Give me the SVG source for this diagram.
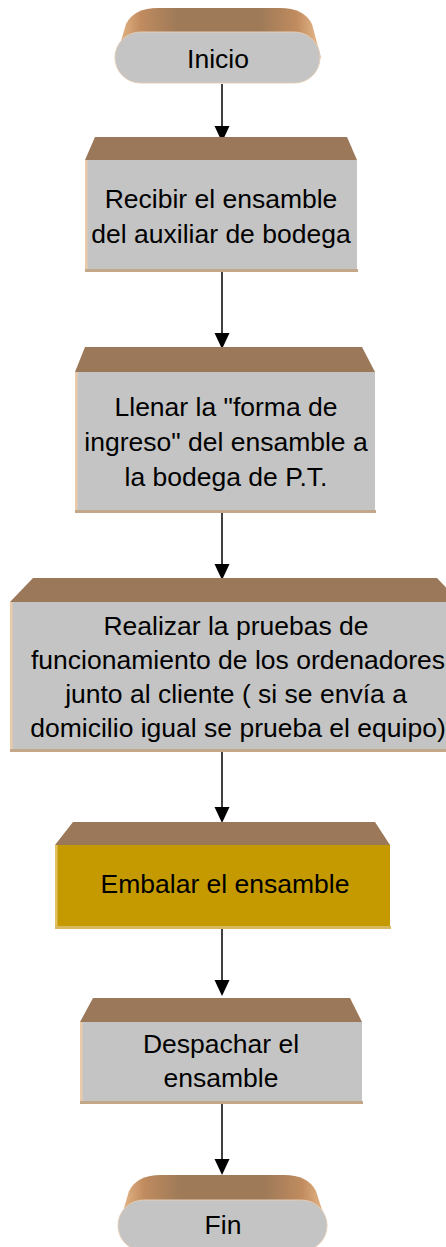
<svg xmlns="http://www.w3.org/2000/svg" width="446" height="1247" viewBox="0 0 446 1247">
<defs>
<style>
.top{fill:#9A7859;}
.front{fill:#C4C4C4;}
.gold{fill:#C49A00;}
.ledge{fill:#E9CBA9;}
.bedge{fill:#C2A888;}
.t{font-family:"Liberation Sans",Arial,sans-serif;font-size:26.5px;fill:#000;text-anchor:middle;}
.conn{stroke:#000;stroke-width:1.5;fill:none;}
.head{fill:#000;}
</style>
<linearGradient id="pillTop" x1="0" y1="0" x2="1" y2="0">
<stop offset="0" stop-color="#E9BC8E"/>
<stop offset="0.12" stop-color="#C08B5F"/>
<stop offset="0.3" stop-color="#9E7A58"/>
<stop offset="0.7" stop-color="#9E7A58"/>
<stop offset="0.88" stop-color="#C08B5F"/>
<stop offset="1" stop-color="#E9BC8E"/>
</linearGradient>
</defs>

<g id="connectors">
<line class="conn" x1="222" y1="84" x2="222" y2="126"/>
<polygon class="head" points="214.5,126 229.5,126 222,142"/>
<line class="conn" x1="222" y1="272" x2="222" y2="333"/>
<polygon class="head" points="214.5,333 229.5,333 222,349"/>
<line class="conn" x1="222" y1="512" x2="222" y2="564"/>
<polygon class="head" points="214.5,564 229.5,564 222,580"/>
<line class="conn" x1="222" y1="751" x2="222" y2="807"/>
<polygon class="head" points="214.5,807 229.5,807 222,823"/>
<line class="conn" x1="222" y1="929" x2="222" y2="980"/>
<polygon class="head" points="214.5,980 229.5,980 222,996"/>
<line class="conn" x1="222" y1="1104" x2="222" y2="1159"/>
<polygon class="head" points="214.5,1159 229.5,1159 222,1175"/>
</g>

<g id="inicio">
<path d="M116,58 L126,24 Q134,8 158,8 L280,8 Q304,8 312,24 L321,58 Z" fill="url(#pillTop)"/>
<rect x="115" y="32" width="205" height="51" rx="25.5" class="front" stroke="#E2CDB6" stroke-width="1"/>
<text class="t" x="218" y="68">Inicio</text>
</g>

<g id="recibir">
<polygon class="top" points="95,137 347,137 357,160 85,160"/>
<rect class="front" x="85" y="160" width="272" height="110"/>
<rect class="ledge" x="85" y="160" width="2.5" height="110"/>
<rect class="bedge" x="85" y="269" width="273" height="3"/>
<text class="t" x="221" y="208">Recibir el ensamble</text>
<text class="t" x="221" y="243">del auxiliar de bodega</text>
</g>

<g id="llenar">
<polygon class="top" points="85,347 362,347 375,372 75,372"/>
<rect class="front" x="75" y="372" width="300" height="139"/>
<rect class="ledge" x="75" y="372" width="2.5" height="139"/>
<rect class="bedge" x="75" y="510" width="301" height="3"/>
<text class="t" x="226" y="416">Llenar la "forma de</text>
<text class="t" x="226" y="451">ingreso" del ensamble a</text>
<text class="t" x="226" y="486">la bodega de P.T.</text>
</g>

<g id="realizar">
<polygon class="top" points="33,578 437,578 460,602 10,602"/>
<rect class="front" x="10" y="602" width="450" height="148"/>
<rect class="ledge" x="10" y="602" width="2.5" height="148"/>
<rect class="bedge" x="10" y="749" width="450" height="3"/>
<text class="t" x="236" y="635">Realizar la pruebas de</text>
<text class="t" x="238" y="669">funcionamiento de los ordenadores</text>
<text class="t" x="236" y="703">junto al cliente ( si se envía a</text>
<text class="t" x="238" y="737">domicilio igual se prueba el equipo)</text>
</g>

<g id="embalar">
<polygon class="top" points="73,822 375,822 390,845 55,845"/>
<rect class="gold" x="55" y="845" width="335" height="82"/>
<rect x="55" y="845" width="2.5" height="82" fill="#E3C060"/>
<rect x="55" y="926" width="336" height="3" fill="#D8B860"/>
<text class="t" x="225" y="893">Embalar el ensamble</text>
</g>

<g id="despachar">
<polygon class="top" points="93,998 350,998 362,1022 80,1022"/>
<rect class="front" x="80" y="1022" width="282" height="80"/>
<rect class="ledge" x="80" y="1022" width="2.5" height="80"/>
<rect class="bedge" x="80" y="1101" width="283" height="3"/>
<text class="t" x="221" y="1053">Despachar el</text>
<text class="t" x="221" y="1087">ensamble</text>
</g>

<g id="fin">
<path d="M119,1225 L129,1191 Q137,1175 161,1175 L284,1175 Q308,1175 316,1191 L327,1225 Z" fill="url(#pillTop)"/>
<rect x="118" y="1200" width="209" height="51" rx="25.5" class="front" stroke="#E2CDB6" stroke-width="1"/>
<text class="t" x="223" y="1234">Fin</text>
</g>
</svg>
